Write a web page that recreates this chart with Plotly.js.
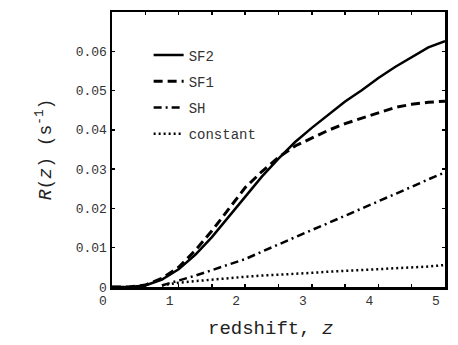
<!DOCTYPE html>
<html>
<head>
<meta charset="utf-8">
<script src="https://cdn.plot.ly/plotly-3.0.1.min.js"></script>
<style>
  html, body { margin: 0; padding: 0; background: #fff; }
  #plot { width: 458px; height: 345px; }
</style>
</head>
<body>
<div id="plot"></div>
<script>
// redshift grid
const z = [0, 0.25, 0.5, 0.75, 1.0, 1.25, 1.5, 1.75, 2.0, 2.25, 2.5, 2.75,
  3.0, 3.25, 3.5, 3.75, 4.0, 4.25, 4.5, 4.75, 5.0];

const sf2 = [0, 0.00003, 0.0004, 0.0019, 0.0045, 0.0082, 0.0127, 0.0179, 0.0232,
  0.0281, 0.0327, 0.0369, 0.0405, 0.0438, 0.0472, 0.0501, 0.0532, 0.0560,
  0.0586, 0.0610, 0.0626];
const sf1 = [0, 0.00003, 0.0005, 0.0022, 0.0050, 0.0093, 0.0143, 0.0197, 0.0253,
  0.0294, 0.0330, 0.0359, 0.0380, 0.0399, 0.0416, 0.0430, 0.0445, 0.0457,
  0.0465, 0.0470, 0.0473];
const sh = [null, null, null, 0.0004, 0.0016, 0.0029, 0.0043, 0.0056, 0.0071,
  0.0090, 0.0109, 0.0127, 0.0145, 0.0163, 0.0181, 0.0199, 0.0217, 0.0236,
  0.0255, 0.0274, 0.0292];
const constant = [null, null, null, 0.0004, 0.0011, 0.0015, 0.0019, 0.0022, 0.0026,
  0.0029, 0.0031, 0.0034, 0.0036, 0.0039, 0.0041, 0.0044, 0.0046, 0.0048,
  0.0050, 0.0052, 0.0056];

const seriesNames = ["SF2", "SF1", "SH", "constant"];

const xTickVals = [0, 1, 2, 3, 4, 5];
const xTickText = ["0", "1", "2", "3", "4", "5"];
const yTickVals = [0, 0.01, 0.02, 0.03, 0.04, 0.05, 0.06];
const yTickText = ["0", "0.01", "0.02", "0.03", "0.04", "0.05", "0.06"];

const FONT = "Liberation Mono, Courier New, monospace";

const mk = (y, name, dash, width) => ({
  x: z,
  y: y,
  type: "scatter",
  mode: "lines",
  name: name,
  legendgroup: name,
  line: { color: "#000", width: width, dash: dash },
  connectgaps: false,
});

const traces = [
  mk(sf2, seriesNames[0], "solid", 2.5),
  mk(sf1, seriesNames[1], "9px,5px", 3),
  mk(sh, seriesNames[2], "8px,4px,2px,4px", 2.5),
  mk(constant, seriesNames[3], "2px,3px", 2.5),
];

const axisCommon = {
  showgrid: false,
  zeroline: false,
  showline: true,
  linecolor: "#000",
  linewidth: 2.5,
  mirror: "allticks",
  ticks: "inside",
  ticklen: 3,
  tickwidth: 1.5,
  tickcolor: "#000",
  tickfont: { family: FONT, size: 13, color: "#333" },
};

const layout = {
  width: 458,
  height: 345,
  margin: { l: 112, r: 13, t: 12, b: 58 },
  showlegend: true,
  legend: {
    x: 0.11,
    y: 0.9,
    xanchor: "left",
    yanchor: "top",
    bgcolor: "rgba(0,0,0,0)",
    traceorder: "grouped",
    tracegroupgap: 5,
    font: { family: FONT, size: 14, color: "#333" },
  },
  xaxis: Object.assign({}, axisCommon, {
    range: [0, 5.0],
    tickvals: xTickVals,
    ticktext: xTickText,
    ticklabelshift: -9,
    minor: { dtick: 0.5, ticks: "inside", ticklen: 3, tickwidth: 1.5, tickcolor: "#000" },
  }),
  yaxis: Object.assign({}, axisCommon, {
    range: [0, 0.07],
    tickvals: yTickVals,
    ticktext: yTickText,
    title: {
      text: "<i>R</i>(<i>z</i>) (s<sup>-1</sup>)",
      font: { family: FONT, size: 18, color: "#222" },
      standoff: 20,
    },
  }),
  annotations: [
    {
      xref: "paper",
      yref: "paper",
      x: 0.477,
      y: -0.2,
      xanchor: "center",
      yanchor: "bottom",
      text: "redshift, <i>z</i>",
      showarrow: false,
      font: { family: FONT, size: 19, color: "#222" },
    },
  ],
  plot_bgcolor: "#fff",
  paper_bgcolor: "#fff",
};

Plotly.newPlot("plot", traces, layout, { displayModeBar: false, staticPlot: true });
</script>
</body>
</html>
